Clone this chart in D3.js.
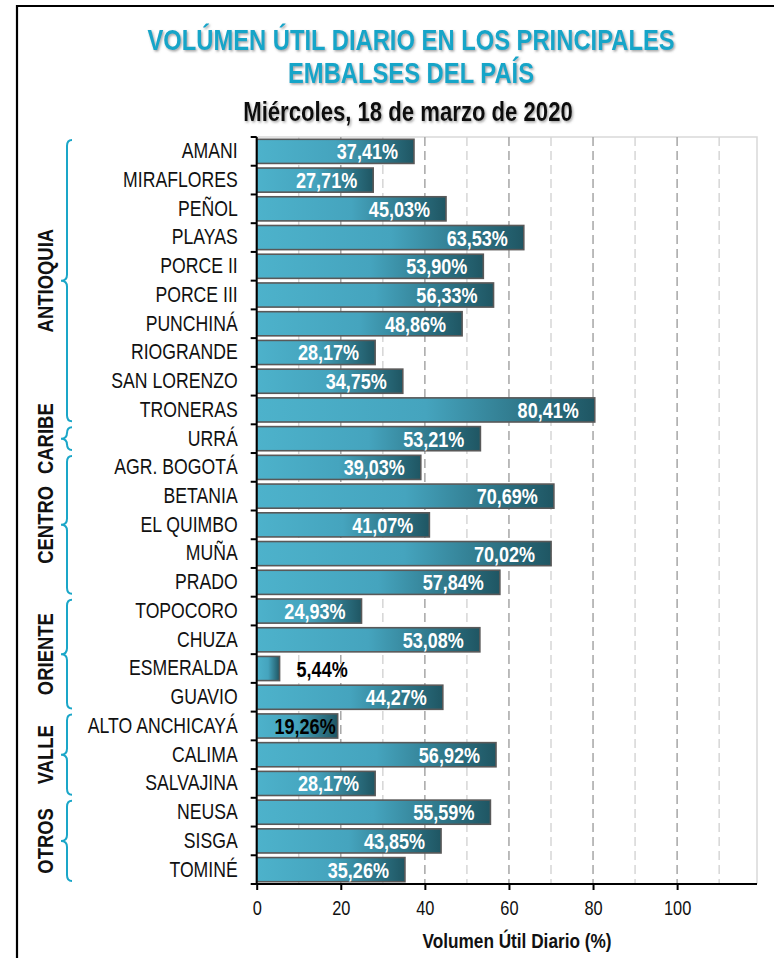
<!DOCTYPE html>
<html>
<head>
<meta charset="utf-8">
<script src="https://cdn.jsdelivr.net/npm/d3@7/dist/d3.min.js"></script>
<style>
  html, body { margin: 0; padding: 0; background: #fff; }
  svg { display: block; }
  text { font-family: "Liberation Sans", Arial, sans-serif; }
</style>
</head>
<body>
<svg id="chart" width="774" height="958"></svg>
<script>
// ---- data ----
const categories = ["AMANI","MIRAFLORES","PEÑOL","PLAYAS","PORCE II","PORCE III","PUNCHINÁ","RIOGRANDE","SAN LORENZO","TRONERAS",
  "URRÁ",
  "AGR. BOGOTÁ","BETANIA","EL QUIMBO","MUÑA","PRADO",
  "TOPOCORO","CHUZA","ESMERALDA","GUAVIO",
  "ALTO ANCHICAYÁ","CALIMA","SALVAJINA",
  "NEUSA","SISGA","TOMINÉ"];
const values = [37.41,27.71,45.03,63.53,53.90,56.33,48.86,28.17,34.75,80.41,
  53.21,
  39.03,70.69,41.07,70.02,57.84,
  24.93,53.08,5.44,44.27,
  19.26,56.92,28.17,
  55.59,43.85,35.26];
const groupNames = ["ANTIOQUIA","CARIBE","CENTRO","ORIENTE","VALLE","OTROS"];
const groupSizes = [10,1,5,4,3,3];
const xTicks = [0,20,40,60,80,100];
const title1 = "VOLÚMEN ÚTIL DIARIO EN LOS PRINCIPALES";
const title2 = "EMBALSES DEL PAÍS";
const subtitle = "Miércoles, 18 de marzo de 2020";
const xTitle = "Volumen Útil Diario (%)";

(function () {
// ---- layout ----
const svg = d3.select("#chart");
const pL = 256.7, pR = 757, pT = 137, pB = 884;
const K = 0.82; // condensed (Arial Narrow-like) horizontal scale
const x = d3.scaleLinear().domain([0, 119]).range([pL, pR]);
const y = d3.scaleBand().domain(categories).range([pT, pB]).paddingInner(0.16).paddingOuter(0.08);
const yIdx = d3.scaleLinear().domain([0, categories.length]).range([pT, pB]);
const fmt = v => d3.format(".2f")(v).replace(".", ",") + "%";

// helper: text drawn condensed at (tx,ty)
function ntext(parent, tx, ty, str, anchor, size, weight, fill, extra) {
  return parent.append("text")
    .attr("transform", `translate(${tx},${ty}) ${extra || ""} scale(${K},1)`)
    .attr("text-anchor", anchor).attr("font-size", size).attr("font-weight", weight)
    .attr("fill", fill).text(str);
}

const defs = svg.append("defs");
const grad = defs.append("linearGradient").attr("id","barGrad").attr("x1","0").attr("x2","1").attr("y1","0").attr("y2","0");
grad.append("stop").attr("offset","0").attr("stop-color","#4db2cb");
grad.append("stop").attr("offset","0.5").attr("stop-color","#45a4be");
grad.append("stop").attr("offset","1").attr("stop-color","#1f5663");
const sh = defs.append("filter").attr("id","shadow").attr("x","-5%").attr("y","-20%").attr("width","110%").attr("height","150%");
sh.append("feDropShadow").attr("dx",1.5).attr("dy",1.5).attr("stdDeviation",1).attr("flood-color","#666").attr("flood-opacity",0.6);

// frame
svg.append("path").attr("d", `M17,958 L17,6 L774,6`).attr("fill","none").attr("stroke","#000").attr("stroke-width",2.2);

// titles
ntext(svg, 411, 50, title1, "middle", 29, "bold", "#19a5c8").attr("filter","url(#shadow)");
ntext(svg, 411, 83, title2, "middle", 29, "bold", "#19a5c8").attr("filter","url(#shadow)");
ntext(svg, 408, 121, subtitle, "middle", 27, "bold", "#111").attr("filter","url(#shadow)");

// plot border (top/right light)
svg.append("path").attr("d", `M${pL},${pT} L${pR},${pT} L${pR},${pB}`).attr("fill","none").attr("stroke","#d9d9d9").attr("stroke-width",1.5);

// gridlines
const grid = d3.range(10, 120, 10);
svg.append("g").selectAll("line").data(grid).join("line")
  .attr("x1", d => x(d)).attr("x2", d => x(d)).attr("y1", pT).attr("y2", pB)
  .attr("stroke", d => d % 20 === 0 ? "#a6a6a6" : "#d6d6d6")
  .attr("stroke-width", 1.5).attr("stroke-dasharray","9,5");

// bars
svg.append("g").selectAll("rect").data(categories).join("rect")
  .attr("x", x(0)).attr("y", d => y(d))
  .attr("width", (d,i) => x(values[i]) - x(0)).attr("height", y.bandwidth())
  .attr("fill","url(#barGrad)").attr("stroke","#595959").attr("stroke-width",1.6);

// value labels
const lg = svg.append("g");
categories.forEach((c, i) => {
  const v = values[i];
  const lx = v < 10 ? x(v) + 17 : (v < 20 ? x(v) - 2 : x(v) - 16);
  ntext(lg, lx, y(c) + y.bandwidth()/2 + 8, fmt(v), v < 10 ? "start" : "end", 22, "bold", v < 20 ? "#000" : "#fff");
});

// y axis
const yAxis = svg.append("g").attr("transform", `translate(${pL},0)`)
  .call(d3.axisLeft(y).tickSize(0).tickPadding(19));
yAxis.select(".domain").remove();
yAxis.selectAll("text").attr("font-size",21.5).attr("fill","#111").attr("font-family",null)
  .attr("x", function(){ return (+this.getAttribute("x")) / K; })
  .attr("transform", `scale(${K},1)`);
svg.append("g").selectAll("line").data(d3.range(0, categories.length + 1)).join("line")
  .attr("x1", pL - 6).attr("x2", pL).attr("y1", d => yIdx(d)).attr("y2", d => yIdx(d))
  .attr("stroke","#000").attr("stroke-width",2);
svg.append("line").attr("x1",pL).attr("x2",pL).attr("y1",pT).attr("y2",pB).attr("stroke","#000").attr("stroke-width",2);

// x axis
const xAxis = svg.append("g").attr("transform", `translate(0,${pB})`)
  .call(d3.axisBottom(x).tickValues(xTicks).tickSize(6).tickPadding(11).tickFormat(d3.format("d")));
xAxis.select(".domain").attr("stroke","#000").attr("stroke-width",2).attr("d", `M${pL},0H${pR}`);
xAxis.selectAll(".tick line").attr("stroke","#000").attr("stroke-width",2);
xAxis.selectAll("text").attr("font-size",20).attr("fill","#111").attr("font-family",null)
  .attr("transform", `scale(${K},1)`);
ntext(svg, 517, 948, xTitle, "middle", 21, "bold", "#111");

// group braces and labels
let start = 0;
const gG = svg.append("g");
groupNames.forEach((g, gi) => {
  const n = groupSizes[gi];
  const y0 = yIdx(start) + 3, y1 = yIdx(start + n) - 3, ym = (y0 + y1) / 2;
  const xe = 72, xs = 67, xp = 61, r = 6;
  const p = `M${xe},${y0} Q${xs},${y0} ${xs},${y0 + r} L${xs},${ym - r} Q${xs},${ym} ${xp},${ym} Q${xs},${ym} ${xs},${ym + r} L${xs},${y1 - r} Q${xs},${y1} ${xe},${y1}`;
  gG.append("path").attr("d", p).attr("fill","none").attr("stroke","#1aa6c8").attr("stroke-width",2);
  ntext(gG, 53, ym, g, "middle", 22.5, "bold", "#111", "rotate(-90)");
  start += n;
});
})();
</script>
</body>
</html>
